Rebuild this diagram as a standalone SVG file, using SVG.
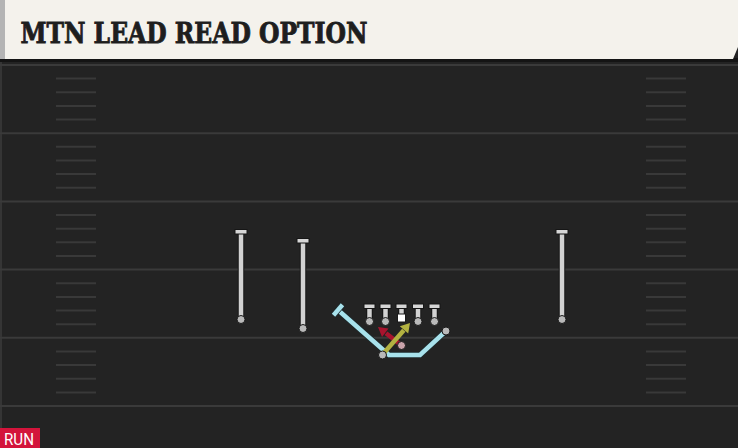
<svg xmlns="http://www.w3.org/2000/svg" width="738" height="448" viewBox="0 0 738 448">
<defs>
<style>
.yard{stroke:#3a3a3a;stroke-width:2}
.hash{stroke:#393939;stroke-width:2}
.stemO{stroke:#161616;stroke-width:6.5}
.stem{stroke:#d2d2d2;stroke-width:4.5}
.bar{fill:#d6d6d6;stroke:#161616;stroke-width:1}
.dot{fill:#b9b9b9;stroke:#1a1a1a;stroke-width:1}
.route{fill:none;stroke:#a8e2ec;stroke-width:4.5;stroke-linejoin:miter}
.routeO{fill:none;stroke:#1c2a2d;stroke-width:6}
.title{font-family:"DejaVu Serif","Liberation Serif",serif;font-weight:bold;font-size:28px;fill:#1e1e1e;stroke:#1e1e1e;stroke-width:0.9}
.tag{font-family:Roboto,"Liberation Sans",sans-serif;font-size:16px;fill:#ffffff}
</style>
</defs>

<!-- field -->
<rect x="0" y="0" width="738" height="448" fill="#232323"/>
<rect x="0" y="59" width="2" height="389" fill="#353535"/>
<g id="yardlines">
<line class="yard" x1="0" y1="65" x2="738" y2="65"/>
<line class="yard" x1="0" y1="133.2" x2="738" y2="133.2"/>
<line class="yard" x1="0" y1="201.4" x2="738" y2="201.4"/>
<line class="yard" x1="0" y1="269.6" x2="738" y2="269.6"/>
<line class="yard" x1="0" y1="337.8" x2="738" y2="337.8"/>
<line class="yard" x1="0" y1="406" x2="738" y2="406"/>
</g>
<g id="hashes">
<path class="hash" d="M56,78.6H96M56,92.3H96M56,105.9H96M56,119.6H96M56,146.8H96M56,160.5H96M56,174.1H96M56,187.8H96M56,215H96M56,228.7H96M56,242.3H96M56,256H96M56,283.2H96M56,296.9H96M56,310.5H96M56,324.2H96M56,351.4H96M56,365.1H96M56,378.7H96M56,392.4H96"/>
<path class="hash" d="M646,78.6H686M646,92.3H686M646,105.9H686M646,119.6H686M646,146.8H686M646,160.5H686M646,174.1H686M646,187.8H686M646,215H686M646,228.7H686M646,242.3H686M646,256H686M646,283.2H686M646,296.9H686M646,310.5H686M646,324.2H686M646,351.4H686M646,365.1H686M646,378.7H686M646,392.4H686"/>
</g>

<!-- title banner -->
<g id="banner">
<rect x="0" y="58" width="738" height="4" fill="#141414"/>
<path d="M0,0 H738 V47 L733,59 H0 Z" fill="#f4f2ec"/>
<rect x="0" y="0" width="5" height="59" fill="#b4b4b4"/>
<text class="title" x="20.5" y="42.5" textLength="347" lengthAdjust="spacingAndGlyphs">MTN LEAD READ OPTION</text>
</g>

<!-- connectors -->
<g id="connectors">
<polyline class="routeO" points="446,331 420,355 389,355 338,310"/>
<polyline class="route" points="446,331 420,355 389,355 338,310"/>
<line x1="342.5" y1="304.8" x2="333.5" y2="315.2" stroke="#1c2a2d" stroke-width="6"/>
<line x1="342.5" y1="304.8" x2="333.5" y2="315.2" stroke="#a8e2ec" stroke-width="4.5"/>
<g id="read-arrow">
<line x1="401" y1="345" x2="386" y2="333.3" stroke="#a8142e" stroke-width="4.5"/>
<polygon points="378,327 388.5,328.4 382,337" fill="#a8142e"/>
</g>
<g id="lead-arrow">
<line x1="383" y1="354" x2="403.8" y2="330.2" stroke="#b3b241" stroke-width="4.5"/>
<polygon points="410,323 408.2,333.5 399.8,326.3" fill="#b3b241"/>
</g>
</g>

<!-- receivers -->
<g id="wr-left">
<line class="stemO" x1="241" y1="233" x2="241" y2="318"/>
<line class="stem" x1="241" y1="233" x2="241" y2="318"/>
<rect class="bar" x="235" y="229.5" width="12" height="4.5"/>
<circle class="dot" cx="241" cy="319.5" r="4"/>
</g>
<g id="wr-slot">
<line class="stemO" x1="303" y1="242" x2="303" y2="327"/>
<line class="stem" x1="303" y1="242" x2="303" y2="327"/>
<rect class="bar" x="297" y="238.5" width="12" height="4.5"/>
<circle class="dot" cx="303" cy="328.5" r="4"/>
</g>
<g id="wr-right">
<line class="stemO" x1="562" y1="233" x2="562" y2="318"/>
<line class="stem" x1="562" y1="233" x2="562" y2="318"/>
<rect class="bar" x="556" y="229.5" width="12" height="4.5"/>
<circle class="dot" cx="562" cy="319.5" r="4"/>
</g>

<!-- offensive line -->
<g id="lt">
<line class="stemO" x1="369.5" y1="307" x2="369.5" y2="320"/>
<line class="stem" x1="369.5" y1="307" x2="369.5" y2="320"/>
<rect class="bar" x="364" y="304" width="11" height="4.5"/>
<circle class="dot" cx="369.5" cy="321.5" r="4"/>
</g>
<g id="lg">
<line class="stemO" x1="385.5" y1="307" x2="385.5" y2="320"/>
<line class="stem" x1="385.5" y1="307" x2="385.5" y2="320"/>
<rect class="bar" x="380" y="304" width="11" height="4.5"/>
<circle class="dot" cx="385.5" cy="321.5" r="4"/>
</g>
<g id="center">
<line class="stemO" x1="401.5" y1="307" x2="401.5" y2="315"/>
<line class="stem" x1="401.5" y1="307" x2="401.5" y2="315"/>
<rect class="bar" x="396" y="304" width="11" height="4.5"/>
<rect x="397.5" y="314" width="8" height="8" fill="#ffffff" stroke="#1a1a1a" stroke-width="1"/>
</g>
<g id="rg">
<line class="stemO" x1="418" y1="307" x2="418" y2="320"/>
<line class="stem" x1="418" y1="307" x2="418" y2="320"/>
<rect class="bar" x="412.5" y="304" width="11" height="4.5"/>
<circle class="dot" cx="418" cy="321.5" r="4"/>
</g>
<g id="rt">
<line class="stemO" x1="434.5" y1="307" x2="434.5" y2="320"/>
<line class="stem" x1="434.5" y1="307" x2="434.5" y2="320"/>
<rect class="bar" x="429" y="304" width="11" height="4.5"/>
<circle class="dot" cx="434.5" cy="321.5" r="4"/>
</g>

<!-- backs -->
<g id="hback"><circle class="dot" cx="446" cy="331" r="4"/></g>
<g id="qb"><circle cx="401.5" cy="345.5" r="4" fill="#c9a3aa" stroke="#1a1a1a" stroke-width="1"/></g>
<g id="rb"><circle class="dot" cx="382.5" cy="355" r="4"/></g>

<!-- tag -->
<g id="run-tag">
<rect x="0" y="428" width="40" height="20" fill="#d3143b"/>
<text class="tag" x="4" y="445" textLength="30" lengthAdjust="spacingAndGlyphs">RUN</text>
</g>
</svg>
